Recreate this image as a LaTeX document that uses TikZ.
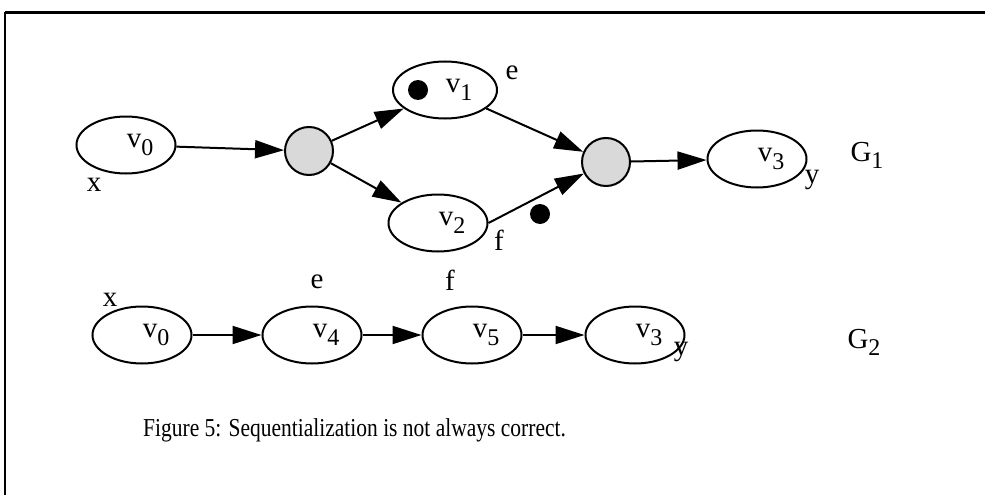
\documentclass[tikz,border=0pt]{standalone}
\usepackage{fontspec}
\setmainfont{Liberation Serif}
\usetikzlibrary{arrows.meta,positioning,shapes.geometric}

\newcommand{\labelsize}{\fontsize{29}{31}\selectfont}
\newcommand{\subsize}{\fontsize{24}{25}\selectfont}
\newcommand{\vname}[1]{\hspace*{28pt}v\raisebox{-8pt}{\subsize #1}}
\newcommand{\gname}[1]{G\raisebox{-7pt}{\subsize #1}}

\begin{document}
\begin{tikzpicture}[
    x=1pt, y=-1pt,
    font=\labelsize,
    vertex/.style={ellipse, draw, line width=2pt, minimum width=99pt, minimum height=57pt, inner sep=0pt},
    junction/.style={circle, draw, line width=2pt, fill=gray!30, minimum size=48pt, inner sep=0pt},
    token/.style={circle, fill=black, minimum size=20pt, inner sep=0pt},
    tag/.style={inner sep=0pt},
    arrow/.style={-{Triangle[length=29pt, width=18pt]}, line width=2pt}
]
    \useasboundingbox (0,0) rectangle (985,495);
    % frame
    \draw[line width=3pt] (5,12.5) -- (985,12.5);
    \draw[line width=2pt] (5,12.5) -- (5,495);

    % G1
    \node[vertex] (v0) at (126,145) {\vname{0}};
    \node[junction] (fork) at (309,151) {};
    \node[vertex, minimum width=104pt] (v1) at (445,90) {\vname{1}};
    \node[vertex] (v2) at (438,223) {\vname{2}};
    \node[junction] (join) at (606,162) {};
    \node[vertex] (v3) at (757,159) {\vname{3}};
    \node[token] (tok1) at (418,90) {};
    \node[token] (tok2) at (540,214) {};

    \draw[arrow] (v0) -- (fork);
    \draw[arrow] (fork) -- (v1);
    \draw[arrow] (fork) -- (v2);
    \draw[arrow] (v1) -- (join);
    \draw[arrow] (v2.east) -- (join);
    \draw[arrow] (join) -- (v3);

    \node[tag] (x1) at (94,185) {x};
    \node[tag] (e1) at (512,73) {e};
    \node[tag] (f1) at (499,240) {f};
    \node[tag] (y1) at (812,180) {y};
    \node[tag] (g1name) at (867,155) {\gname{1}};

    % G2
    \node[vertex] (w0) at (142,335) {\vname{0}};
    \node[vertex, right=69pt of w0] (v4) {\vname{4}};
    \node[vertex, right=59pt of v4] (v5) {\vname{5}};
    \node[vertex, right=62pt of v5] (w3) {\vname{3}};

    \draw[arrow] (w0) -- (v4);
    \draw[arrow] (v4) -- (v5);
    \draw[arrow] (v5) -- (w3);

    \node[tag] (x2) at (110,300) {x};
    \node[tag] (e2) at (317,282) {e};
    \node[tag] (f2) at (450,280) {f};
    \node[tag] (y2) at (681,352) {y};
    \node[tag] (g2name) at (864,342) {\gname{2}};

    % caption
    \node[tag, anchor=base west, yscale=1.2, transform shape, font=\fontsize{21.5}{24}\selectfont] (caption) at (143,436)
        {Figure 5: Sequentialization is not always correct.};
\end{tikzpicture}
\end{document}
